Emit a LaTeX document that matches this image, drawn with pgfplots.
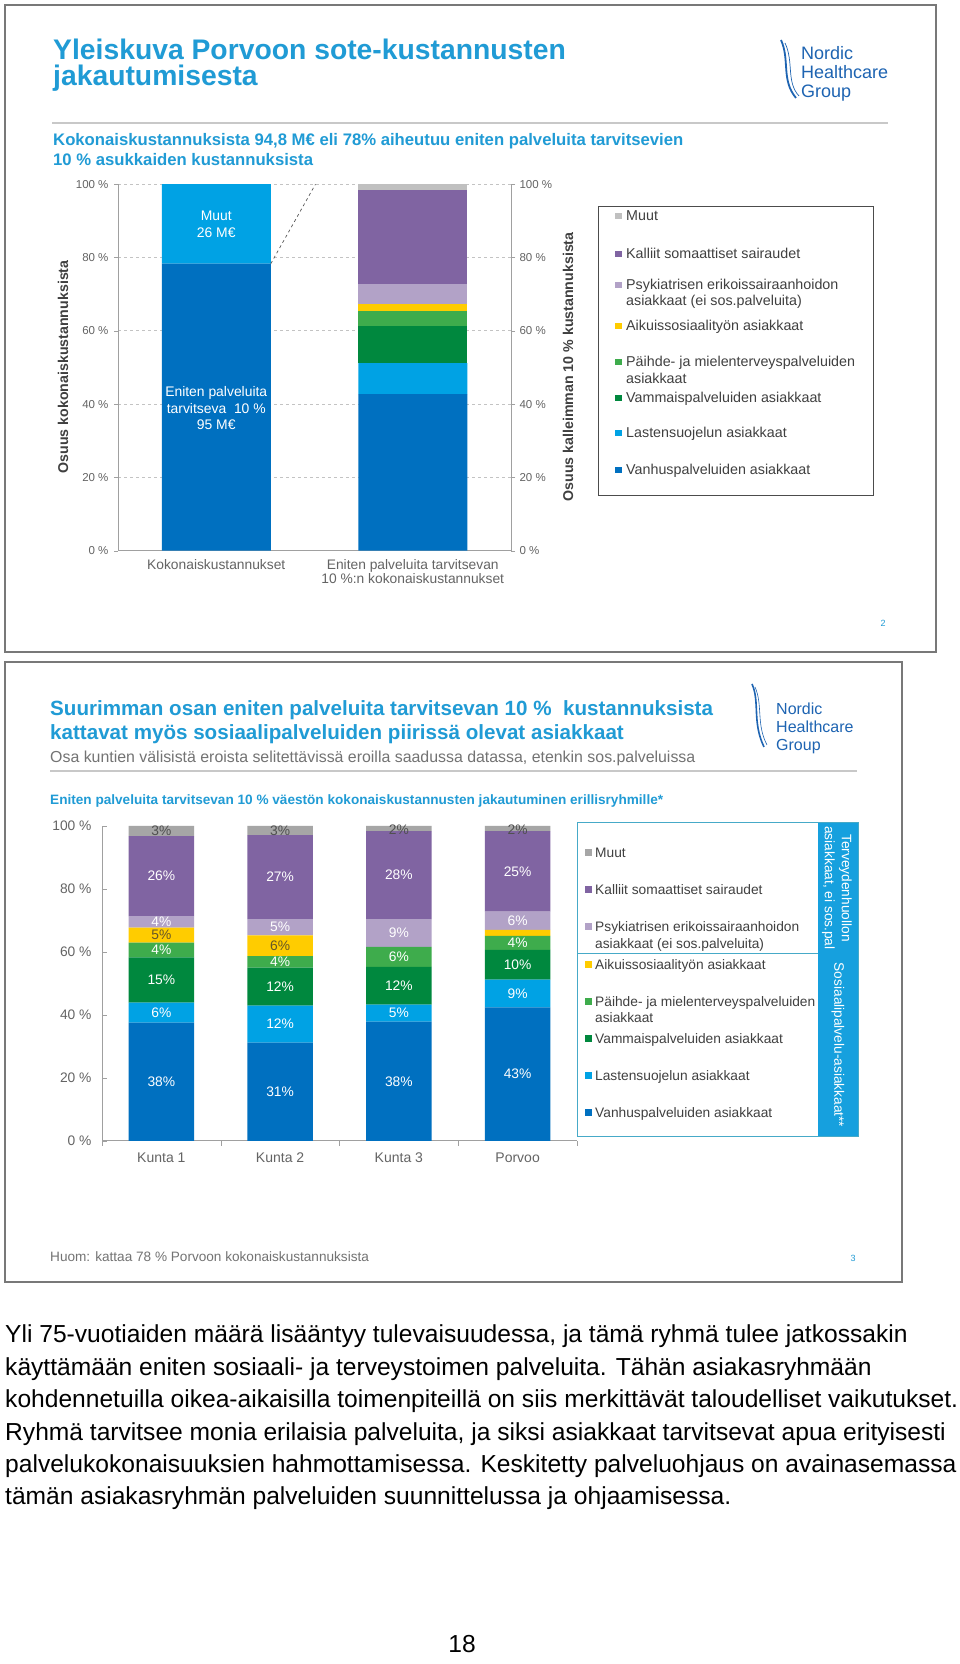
\documentclass[border=0pt]{standalone}
\usepackage{fontspec}
\setmainfont{Liberation Sans}
\usepackage{pgfplots}
\pgfplotsset{compat=1.18}
\usepackage{pgfplotstable}

\definecolor{vanhus}{RGB}{0,112,192}
\definecolor{lasten}{RGB}{0,162,228}
\definecolor{vammais}{RGB}{0,136,62}
\definecolor{paihde}{RGB}{62,172,76}
\definecolor{aikuis}{RGB}{255,204,0}
\definecolor{psyk}{RGB}{178,162,199}
\definecolor{kalliit}{RGB}{128,100,162}
\definecolor{muut}{RGB}{166,166,166}
\definecolor{muutA}{RGB}{192,192,192}
\definecolor{nhgcyan}{RGB}{32,155,213}
\definecolor{nhgblue}{RGB}{30,100,178}
\definecolor{tickgray}{RGB}{100,100,100}
\definecolor{labgray}{RGB}{64,64,64}
\definecolor{axgray}{RGB}{160,160,160}
\definecolor{gridgray}{RGB}{195,195,195}
\definecolor{framegray}{RGB}{120,120,120}
\definecolor{rulegray}{RGB}{200,200,200}
\definecolor{legline}{RGB}{70,170,200}
\definecolor{band}{RGB}{22,160,222}
\definecolor{subgray}{RGB}{115,115,115}
\definecolor{darklab}{RGB}{80,80,80}
\definecolor{olive}{RGB}{100,86,40}

\newcommand{\fs}[2]{\fontsize{#1}{#2}\selectfont}
% legend entry: colour, marker x, text x, centre y (from top), size, text
\newcommand{\entry}[6]{%
  \fill[#1] (#2,1664-#4-#5/2) rectangle ++(#5,#5);
  \node[anchor=base west, inner sep=0] at (#3,1664-#4-5) {#6};}
\newcommand{\entrytwo}[4]{%
  \node[anchor=base west, inner sep=0] at (#1,1664-#2-5) {#3};}

% slide 1: total costs and the costliest 10 %
\pgfplotstableread{
x blueA blueB vammais paihde aikuis psyk kalliit muut
0 78.3 21.7 0 0 0 0 0 0
1 42.7 8.5 10.0 4.1 2.0 5.5 25.6 1.6
}\kust

% slide 2: shares by group
\pgfplotstableread{
x vanhus lasten vammais paihde aikuis psyk kalliit muut
0 37.6 6.3 14.4 4.7 4.7 3.7 25.4 3.2
1 31.2 11.8 12.0 3.7 6.6 5.1 26.7 2.9
2 37.9 5.4 12.0 6.3 0.0 8.8 28.0 1.6
3 42.4 8.8 9.5 4.4 1.9 5.8 25.6 1.6
}\kunnat

% printed labels (segment centres)
\pgfplotstableread{
x y lab
0 18.8 38
0 40.75 6
0 51.1 15
0 60.65 4
0 69.55 4
0 84.1 26
1 15.6 31
1 37.1 12
1 49.0 12
1 56.85 4
1 67.85 5
1 83.75 27
2 18.95 38
2 40.6 5
2 49.3 12
2 58.45 6
2 66.0 9
2 84.4 28
3 21.2 43
3 46.8 9
3 55.95 10
3 62.9 4
3 69.9 6
3 85.6 25
}\labw
\pgfplotstableread{
x y lab
0 98.6 3
1 98.6 3
2 98.9 2
3 98.9 2
}\labm
\pgfplotstableread{
x y lab
0 65.35 5
1 62.0 6
}\laby

\begin{document}
\begin{tikzpicture}[x=1pt,y=1pt]
\useasboundingbox (0,0) rectangle (960,1664);
\fill[white] (0,0) rectangle (960,1664);

%================ slide 1 ================
\draw[framegray, line width=1.5] (5,1664-5) rectangle (936,1664-652);
\node[anchor=base west, inner sep=0, text=nhgcyan, font=\bfseries\fs{28.3}{30}] at (53,1664-60) {Yleiskuva Porvoon sote-kustannusten};
\node[anchor=base west, inner sep=0, text=nhgcyan, font=\bfseries\fs{28.3}{30}] at (53,1664-86) {jakautumisesta};
% logo
\draw[nhgblue, line width=1.8] (781,1664-40) .. controls (790,1664-60) and (781,1664-80) .. (796,1664-98);
\draw[nhgblue, line width=0.7] (785,1664-43) .. controls (794,1664-62) and (786,1664-82) .. (799,1664-96);
\begin{scope}[every node/.style={anchor=base west, inner sep=0, text=nhgblue, font=\fs{18}{20}}]
\node at (801,1664-60) {Nordic};
\node at (801,1664-79) {Healthcare};
\node at (801,1664-98) {Group};
\end{scope}
\draw[rulegray, line width=1.2] (52,1664-123) -- (888,1664-123);
\node[anchor=base west, inner sep=0, text=nhgcyan, font=\bfseries\fs{16.7}{20}] at (53,1664-146) {Kokonaiskustannuksista 94,8 M€ eli 78\% aiheutuu eniten palveluita tarvitsevien};
\node[anchor=base west, inner sep=0, text=nhgcyan, font=\bfseries\fs{16.7}{20}] at (53,1664-166) {10 \% asukkaiden kustannuksista};

\begin{axis}[
  at={(118pt,1113.3pt)}, anchor=south west,
  scale only axis, width=393pt, height=366.5pt,
  ybar stacked, bar width=109pt,
  xmin=-0.5, xmax=1.5, ymin=0, ymax=100,
  xtick={0,1},
  xticklabels={Kokonaiskustannukset, {Eniten palveluita tarvitsevan\\10 \%:n kokonaiskustannukset}},
  xticklabel style={align=center, font=\fs{13.8}{12.5}, text=tickgray, yshift=-1pt},
  xtick style={draw=none},
  ytick={0,20,40,60,80,100},
  yticklabels={0 \%,20 \%,40 \%,60 \%,80 \%,100 \%},
  yticklabel style={font=\fs{11.5}{12}, text=tickgray, xshift=-2pt},
  ytick style={draw=axgray}, tick align=outside, major tick length=4pt,
  axis x line*=bottom, axis y line*=left,
  axis line style={axgray, line width=1},
  ymajorgrids, grid style={gridgray, dashed, line width=0.8},
]
\addplot[fill=vanhus, draw=none] table[x=x, y=blueA]{\kust};
\addplot[fill=lasten, draw=none] table[x=x, y=blueB]{\kust};
\addplot[fill=vammais, draw=none] table[x=x, y=vammais]{\kust};
\addplot[fill=paihde, draw=none] table[x=x, y=paihde]{\kust};
\addplot[fill=aikuis, draw=none] table[x=x, y=aikuis]{\kust};
\addplot[fill=psyk, draw=none] table[x=x, y=psyk]{\kust};
\addplot[fill=kalliit, draw=none] table[x=x, y=kalliit]{\kust};
\addplot[fill=muutA, draw=none] table[x=x, y=muut]{\kust};
\end{axis}
% right-hand axis, with the bar texts on top
\begin{axis}[
  at={(118pt,1113.3pt)}, anchor=south west,
  scale only axis, width=393pt, height=366.5pt,
  xmin=-0.5, xmax=1.5, ymin=0, ymax=100,
  axis x line=none, axis y line*=right,
  axis line style={axgray, line width=1},
  ytick={0,20,40,60,80,100},
  yticklabels={0 \%,20 \%,40 \%,60 \%,80 \%,100 \%},
  yticklabel style={font=\fs{11.5}{12}, text=tickgray, xshift=1pt},
  ytick style={draw=axgray}, tick align=outside, major tick length=4pt,
  clip=false,
]
\addplot[draw=none] coordinates {(0,0)};
\node[text=white, align=center, font=\fs{13.9}{16.5}] at (axis cs:0,89) {Muut\\26 M€};
\node[text=white, align=center, font=\fs{13.9}{16.5}] at (axis cs:0,38.9) {Eniten palveluita\\tarvitseva\ \ 10 \%\\95 M€};
\draw[black!65, dashed, line width=0.7] (axis cs:0.2775,78.3) -- (axis cs:0.505,100);
\end{axis}
\node[rotate=90, font=\bfseries\fs{14.2}{16}, text=labgray] at (63,1664-367) {Osuus kokonaiskustannuksista};
\node[rotate=90, font=\bfseries\fs{14.2}{16}, text=labgray] at (568,1664-367) {Osuus kalleimman 10 \% kustannuksista};

% legend 1
\draw[black!70, line width=0.8] (598,1664-206) rectangle (873,1664-495);
\begin{scope}[every node/.style={text=labgray, font=\fs{14.3}{16}}]
\entry{muutA}{615}{626}{216}{6.5}{Muut}
\entry{kalliit}{615}{626}{254}{6.5}{Kalliit somaattiset sairaudet}
\entry{psyk}{615}{626}{285}{6.5}{Psykiatrisen erikoissairaanhoidon}
\entrytwo{626}{301}{asiakkaat (ei sos.palveluita)}{}
\entry{aikuis}{615}{626}{326}{6.5}{Aikuissosiaalityön asiakkaat}
\entry{paihde}{615}{626}{362}{6.5}{Päihde- ja mielenterveyspalveluiden}
\entrytwo{626}{379}{asiakkaat}{}
\entry{vammais}{615}{626}{398}{6.5}{Vammaispalveluiden asiakkaat}
\entry{lasten}{615}{626}{433}{6.5}{Lastensuojelun asiakkaat}
\entry{vanhus}{615}{626}{470}{6.5}{Vanhuspalveluiden asiakkaat}
\end{scope}
\node[anchor=base, inner sep=0, text=nhgcyan, font=\fs{9}{10}] at (883,1664-627) {2};

%================ slide 2 ================
\draw[framegray, line width=1.5] (5,1664-662) rectangle (902,1664-1282);
\node[anchor=base west, inner sep=0, text=nhgcyan, font=\bfseries\fs{20.6}{24}] at (50,1664-716) {Suurimman osan eniten palveluita tarvitsevan 10 \%\ \ kustannuksista};
\node[anchor=base west, inner sep=0, text=nhgcyan, font=\bfseries\fs{20.6}{24}] at (50,1664-740) {kattavat myös sosiaalipalveluiden piirissä olevat asiakkaat};
\node[anchor=base west, inner sep=0, text=subgray, font=\fs{15.9}{18}] at (50,1664-763) {Osa kuntien välisistä eroista selitettävissä eroilla saadussa datassa, etenkin sos.palveluissa};
\draw[nhgblue, line width=1.6] (752,1664-684) .. controls (760,1664-702) and (752,1664-722) .. (764,1664-747);
\draw[nhgblue, line width=0.6] (755,1664-687) .. controls (763,1664-705) and (756,1664-724) .. (767,1664-745);
\begin{scope}[every node/.style={anchor=base west, inner sep=0, text=nhgblue, font=\fs{16}{18}}]
\node at (776,1664-715) {Nordic};
\node at (776,1664-733) {Healthcare};
\node at (776,1664-751) {Group};
\end{scope}
\draw[rulegray, line width=1.2] (50,1664-771) -- (857,1664-771);
\node[anchor=base west, inner sep=0, text=nhgcyan, font=\bfseries\fs{13.6}{16}] at (50,1664-805) {Eniten palveluita tarvitsevan 10 \% väestön kokonaiskustannusten jakautuminen erillisryhmille*};

\begin{axis}[
  at={(102pt,523pt)}, anchor=south west,
  scale only axis, width=475pt, height=315pt,
  ybar stacked, bar width=65.5pt,
  xmin=-0.5, xmax=3.5, ymin=0, ymax=100,
  xtick={0,1,2,3},
  xticklabels={Kunta 1,Kunta 2,Kunta 3,Porvoo},
  xticklabel style={font=\fs{14}{16}, text=tickgray, yshift=-8pt},
  xtick style={draw=none},
  extra x ticks={-0.5,0.5,1.5,2.5,3.5},
  extra x tick labels={},
  extra x tick style={xtick style={draw=axgray}, tick align=outside, major tick length=5pt},
  ytick={0,20,40,60,80,100},
  yticklabels={0 \%,20 \%,40 \%,60 \%,80 \%,100 \%},
  yticklabel style={font=\fs{13.8}{16}, text=tickgray, xshift=-7pt},
  ytick style={draw=axgray}, tick align=inside, major tick length=5pt,
  axis x line*=bottom, axis y line*=left,
  axis line style={axgray, line width=1},
]
\addplot[fill=vanhus, draw=none] table[x=x, y=vanhus]{\kunnat};
\addplot[fill=lasten, draw=none] table[x=x, y=lasten]{\kunnat};
\addplot[fill=vammais, draw=none] table[x=x, y=vammais]{\kunnat};
\addplot[fill=paihde, draw=none] table[x=x, y=paihde]{\kunnat};
\addplot[fill=aikuis, draw=none] table[x=x, y=aikuis]{\kunnat};
\addplot[fill=psyk, draw=none] table[x=x, y=psyk]{\kunnat};
\addplot[fill=kalliit, draw=none] table[x=x, y=kalliit]{\kunnat};
\addplot[fill=muut, draw=none] table[x=x, y=muut]{\kunnat};
\end{axis}
% segment labels
\begin{axis}[
  at={(102pt,523pt)}, anchor=south west,
  scale only axis, width=475pt, height=315pt,
  xmin=-0.5, xmax=3.5, ymin=0, ymax=100,
  hide axis, clip=false,
  point meta=explicit symbolic,
  nodes near coords={\pgfplotspointmeta\%},
]
\addplot[only marks, mark=text, text mark={},
  every node near coord/.append style={anchor=center, inner sep=0pt, text=white, font=\fs{13.8}{15}}]
  table[x=x, y=y, meta=lab]{\labw};
\addplot[only marks, mark=text, text mark={},
  every node near coord/.append style={anchor=center, inner sep=0pt, text=darklab, font=\fs{13.8}{15}}]
  table[x=x, y=y, meta=lab]{\labm};
\addplot[only marks, mark=text, text mark={},
  every node near coord/.append style={anchor=center, inner sep=0pt, text=olive, font=\fs{13.8}{15}}]
  table[x=x, y=y, meta=lab]{\laby};
\end{axis}

% legend 2
\fill[band] (818,1664-823) rectangle (858,1664-1137);
\draw[legline, line width=1] (577,1664-823) rectangle (858,1664-1137);
\draw[legline, line width=1] (577,1664-954) -- (818,1664-954);
\node[rotate=-90, align=center, text=white, font=\fs{13.7}{17}] at (837,1664-888) {Terveydenhuollon\\asiakkaat, ei sos.pal};
\node[rotate=-90, text=white, font=\fs{13.7}{17}] at (838,1664-1045) {Sosiaalipalvelu-asiakkaat**};
\begin{scope}[every node/.style={text=labgray, font=\fs{13.75}{16}}]
\entry{muut}{585}{595}{853}{7}{Muut}
\entry{kalliit}{585}{595}{890}{7}{Kalliit somaattiset sairaudet}
\entry{psyk}{585}{595}{927}{7}{Psykiatrisen erikoissairaanhoidon}
\entrytwo{595}{944}{asiakkaat (ei sos.palveluita)}{}
\entry{aikuis}{585}{595}{965}{7}{Aikuissosiaalityön asiakkaat}
\entry{paihde}{585}{595}{1002}{7}{Päihde- ja mielenterveyspalveluiden}
\entrytwo{595}{1018}{asiakkaat}{}
\entry{vammais}{585}{595}{1039}{7}{Vammaispalveluiden asiakkaat}
\entry{lasten}{585}{595}{1076}{7}{Lastensuojelun asiakkaat}
\entry{vanhus}{585}{595}{1113}{7}{Vanhuspalveluiden asiakkaat}
\end{scope}

\node[anchor=base west, inner sep=0, text=subgray, font=\fs{13.6}{16}] at (50,1664-1262) {Huom: kattaa 78 \% Porvoon kokonaiskustannuksista};
\node[anchor=base, inner sep=0, text=nhgcyan, font=\fs{9}{10}] at (853,1664-1262) {3};

%================ body text ================
\begin{scope}[every node/.style={anchor=base west, inner sep=0, text=black, font=\fs{24.6}{30}}]
\node at (5,1664-1343) {Yli 75-vuotiaiden määrä lisääntyy tulevaisuudessa, ja tämä ryhmä tulee jatkossakin};
\node at (5,1664-1375.4) {käyttämään eniten sosiaali- ja terveystoimen palveluita. Tähän asiakasryhmään};
\node at (5,1664-1407.8) {kohdennetuilla oikea-aikaisilla toimenpiteillä on siis merkittävät taloudelliset vaikutukset.};
\node at (5,1664-1440.2) {Ryhmä tarvitsee monia erilaisia palveluita, ja siksi asiakkaat tarvitsevat apua erityisesti};
\node at (5,1664-1472.6) {palvelukokonaisuuksien hahmottamisessa. Keskitetty palveluohjaus on avainasemassa};
\node at (5,1664-1505) {tämän asiakasryhmän palveluiden suunnittelussa ja ohjaamisessa.};
\node[anchor=base] at (462,1664-1653) {18};
\end{scope}
\end{tikzpicture}
\end{document}
